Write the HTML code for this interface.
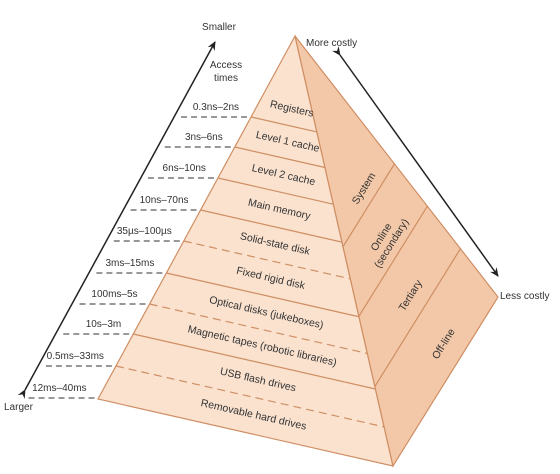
<!DOCTYPE html>
<html><head><meta charset="utf-8"><style>
html,body{margin:0;padding:0;background:#fff;}
svg{display:block;font-family:"Liberation Sans",sans-serif;}
</style></head><body>
<svg id="c" width="560" height="474" viewBox="0 0 560 474">
<defs><marker id="ah" markerWidth="10" markerHeight="10" refX="8" refY="5" orient="auto" markerUnits="userSpaceOnUse"><path d="M0,1 L9,5 L0,9 L3,5 Z" fill="#222"/></marker></defs>
</svg>
<script>
const rows=["Registers","Level 1 cache","Level 2 cache","Main memory","Solid-state disk","Fixed rigid disk","Optical disks (jukeboxes)","Magnetic tapes (robotic libraries)","USB flash drives","Removable hard drives"];
const times=["0.3ns\u20132ns","3ns\u20136ns","6ns\u201310ns","10ns\u201370ns","35\u00b5s\u2013100\u00b5s","3ms\u201315ms","100ms\u20135s","10s\u20133m","0.5ms\u201333ms","12ms\u201340ms"];
const bounds=[117,147,178,210,241,273,304,334,366,398];
const dashedBelow=[false,false,false,false,true,false,true,false,true,false];
const tiers=["System","Online\n(secondary)","Tertiary","Off-line"];
const tierT=[0.49,0.652,0.815];
const tierMid=[0.44,0.59,0.75,0.89];
const svg=document.getElementById('c');const NS='http://www.w3.org/2000/svg';
const A=[295,36],BL=[98,399],BF=[393,466],BR=[498,297];
function mk(t,a,p){const e=document.createElementNS(NS,t);for(const k in a)e.setAttribute(k,a[k]);(p||svg).appendChild(e);return e;}
function lerp(P,Q,t){return[P[0]+(Q[0]-P[0])*t,P[1]+(Q[1]-P[1])*t];}
let f=mk('polygon',{points:[A,BL,BF].join(' '),fill:'#fae2cf',stroke:'#cf8e63','stroke-width':1.2});


let r=mk('polygon',{points:[A,BF,BR].join(' '),fill:'#f3c8a8',stroke:'#cf8e63','stroke-width':1.2});


const ang=Math.atan2(BF[1]-BL[1],BF[0]-BL[0])*180/Math.PI;
let prevT=0.14;
bounds.forEach((y,i)=>{
 const t=(y-A[1])/(BL[1]-A[1]);
 const L=lerp(A,BL,t),R=lerp(A,BF,t);
 if(i<bounds.length-1){
 let ln=mk('line',{x1:L[0],y1:L[1],x2:R[0],y2:R[1],stroke:'#cf8e63','stroke-width':1.2,'stroke-dasharray':dashedBelow[i]?'8,5':''});
 
 }
 const tm=(prevT+t)/2;const ML=lerp(A,BL,tm),MR=lerp(A,BF,tm);
 const cx=(ML[0]+MR[0])/2+6,cy=(ML[1]+MR[1])/2;
 let tx=mk('text',{x:cx,y:cy+4,'text-anchor':'middle','font-size':10.5,fill:'#333',transform:`rotate(${ang} ${cx} ${cy})`});
 tx.textContent=rows[i];
 
 
 let d=mk('line',{x1:L[0]-70,y1:y,x2:L[0],y2:y,stroke:'#777','stroke-width':1.4,'stroke-dasharray':'6,4'});
 
 
 const lx=L[0]-12;
 let at=mk('text',{x:lx,y:y-7,'text-anchor':'end','font-size':10,fill:'#333'});
 at.textContent=times[i];
 
 
 prevT=t;
});
tierT.forEach(t=>{const P=lerp(A,BF,t),Q=lerp(A,BR,t);
 let l=mk('line',{x1:P[0],y1:P[1],x2:Q[0],y2:Q[1],stroke:'#cf8e63','stroke-width':1.2});
 
 });
const rang=Math.atan2(BR[1]-BF[1],BR[0]-BF[0])*180/Math.PI;
tiers.forEach((n,i)=>{const tm=tierMid[i];const P=lerp(A,BF,tm),Q=lerp(A,BR,tm);
 const cx=(P[0]+Q[0])/2+(i==3?14:2),cy=(P[1]+Q[1])/2;
 let g=mk('text',{x:cx,y:cy,'text-anchor':'middle','font-size':10.5,fill:'#333',transform:`rotate(${rang} ${cx} ${cy})`});
 n.split('\n').forEach((s,j)=>{let sp=mk('tspan',{x:cx,dy:j==0?(n.includes('\n')?-2:4):12},g);sp.textContent=s;});
 
 });
let a1=mk('line',{x1:25,y1:390,x2:215,y2:42,stroke:'#222','stroke-width':1.5,'marker-end':'url(#ah)','marker-start':'url(#ah)'});


let a2=mk('line',{x1:340,y1:55,x2:498,y2:276,stroke:'#222','stroke-width':1.5,'marker-end':'url(#ah)','marker-start':'url(#ah)'});


[["Smaller",219,30,"middle","smaller-label"],["Access",226,68,"middle","access-times-title"],["times",226,81,"middle","access-times-title-2"],["More costly",306,46,"start","more-costly-label"],["Less costly",500,299,"start","less-costly-label"],["Larger",4,410,"start","larger-label"]].forEach(o=>{
 let t=mk('text',{x:o[1],y:o[2],'text-anchor':o[3],'font-size':10,fill:'#333'});t.textContent=o[0];
 
 });
</script>
</body></html>
